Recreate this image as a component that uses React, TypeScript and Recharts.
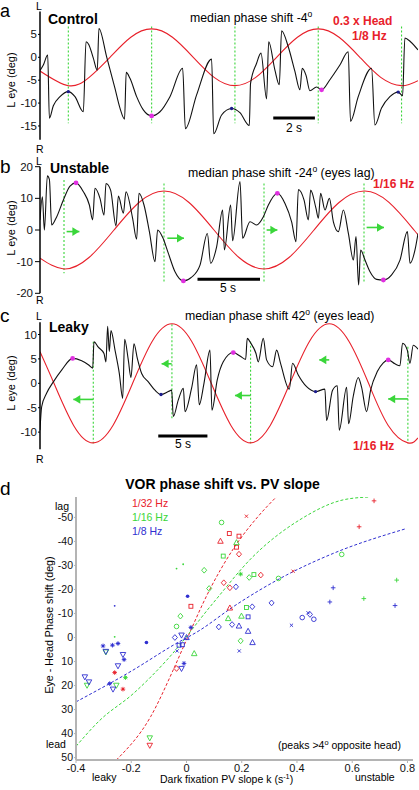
import React from 'react';
import { ComposedChart, Line, Scatter, XAxis, YAxis, ReferenceLine } from 'recharts';

const FONT = '"Liberation Sans", Arial, Helvetica, sans-serif';
const RED = '#e8212b';
const GREEN = '#3ad63a';
const BLUE = '#2f2fd0';
const MAGENTA = '#e030e0';
const NAVY = '#1c1c8c';
const AXIS_GRAY = '#b4b4b4';

type Pair = [number, number];
type Mark = [number, number, string];

// ---- panel a: control, 1/8 Hz (t in s, v in deg) ----
const headA: Pair[] = [
  [0, -3.0], [1.36, -6.2], [2.36, -4.38], [3.36, 0], [4.36, 4.38], [5.36, 6.2], [6.36, 4.38],
  [7.36, 0], [8.36, -4.38], [9.36, -6.2], [10.36, -4.38], [11.36, 0], [12.36, 4.38], [13.36, 6.2],
  [14.36, 4.38], [15.36, 0], [16.36, -4.38], [17.36, -6.2], [18.15, -5.1],
];
const eyeA: Pair[] = [
  [0, -2.9], [0.16, -1.7], [0.37, 0.5], [0.45, -13.3], [0.64, -10.6], [0.96, -8.6], [1.36, -7.5],
  [1.68, -8.6], [2.08, -11.9], [2.21, 3.4], [2.34, 2.8], [2.56, -0.2], [2.75, -2.8], [2.83, 6.3],
  [3.2, 0.1], [3.6, -6.8], [3.84, -11.1], [4.06, -13.5], [4.14, -3.3], [4.32, -4.6], [4.64, -8.6],
  [4.96, -11.5], [5.36, -12.8], [5.76, -11.9], [6.24, -8.6], [6.85, -2.4], [6.98, -15.6], [7.52, -8.2],
  [8.24, -0.4], [8.34, -16.7], [8.72, -12.6], [9.2, -11.2], [9.6, -12.1], [10.05, -14.9], [10.11, -5.7],
  [10.4, -1.3], [10.61, 0.9], [10.88, -9.1], [10.98, 3.4], [11.28, -2.8], [11.49, -6.0], [11.6, 5.8],
  [11.92, 2.3], [12.24, -3.1], [12.48, -7.1], [12.59, -2.4], [12.77, -3.9], [12.96, -7.3], [13.28, -6.5],
  [13.52, -7.1], [13.92, -4.9], [14.4, -1.7], [14.8, 1.2], [14.91, -14.0], [15.28, -8.6], [15.92, -2.4],
  [16.08, -14.8], [16.4, -11.1], [16.8, -8.6], [17.2, -7.6], [17.41, -8.4], [17.52, 4.2], [17.79, 3.4],
  [18.15, 1.6],
];
const peaksA: Pair[] = [[5.36, -12.8], [13.52, -7.1]];
const marksA: Pair[] = [[1.36, -7.5], [9.2, -11.2], [17.2, -7.6]];
const guidesA: number[][] = [[1.36, 6.7, -14.4], [5.36, 6.7, -14.4], [9.36, 6.7, -14.4], [13.36, 6.7, -14.4], [17.36, 6.7, -14.4]];
const barA = [11.2, 13.2, -13.25];
const ticksA = [5, 0, -5, -10, -15];

// ---- panel b: unstable, 1/16 Hz ----
const headB: Pair[] = [
  [0, -8.9], [1.92, -12.3], [3.92, -8.7], [5.92, 0], [7.92, 8.7], [9.92, 12.3], [11.92, 8.7],
  [13.92, 0], [15.92, -8.7], [17.92, -12.3], [19.92, -8.7], [21.92, 0], [23.92, 8.7], [25.92, 12.3],
  [27.92, 8.7], [29.92, 0], [30.24, -1.5],
];
const eyeB: Pair[] = [
  [0, 3.2], [0.19, 10.5], [0.35, 0], [0.59, 17.1], [0.75, 16], [0.93, 1.6], [1.28, 3.7], [1.87, 9.5],
  [2.4, 13.9], [2.88, 14.9], [3.47, 12.1], [3.95, 7.9], [4.21, 3.2], [4.4, 13.2], [4.8, 10], [5.12, 4.7],
  [5.28, 14.7], [5.65, 12.6], [6.08, 1.3], [6.27, 10.7], [6.67, 5.3], [6.88, 12.1], [7.41, 3.7],
  [7.73, -2.9], [7.92, 11.6], [8.32, 7.9], [8.75, -0.5], [9.2, -10], [9.41, 0], [9.81, -2.3],
  [10.27, -7.4], [10.8, -13.2], [11.47, -16.1], [12.13, -14.9], [12.8, -11.1], [13.39, -1.1],
  [13.65, -10.5], [14.13, -5.3], [14.61, 6.3], [14.75, -6.3], [15.25, 7.9], [15.41, -3.4], [16, 15.3],
  [16.21, -2.6], [16.8, 2.6], [17.33, 1.6], [17.87, 4.2], [18.27, 7.9], [18.99, 11.6], [19.6, 8.4],
  [20.13, 2.6], [20.48, -3.7], [20.67, 12.8], [21.12, 9.5], [21.47, 3.2], [21.65, 12.6], [22.08, 6.8],
  [22.27, 3.7], [22.45, 11.6], [22.8, 6.3], [23.15, 10], [23.47, 2.6], [23.87, -0.5], [24.27, 6.3],
  [24.67, -1.1], [25.07, -9.5], [25.28, -2.1], [25.49, -17.4], [25.65, -6.3], [26, -9.5], [26.4, -13.2],
  [26.93, -15.6], [27.47, -15.8], [28.13, -14.2], [28.8, -9.5], [29.39, -0.5], [29.6, -10.5], [30, -6.3],
  [30.24, -1.1],
];
const peaksB: Pair[] = [[2.88, 14.9], [11.47, -16.1], [18.99, 11.6], [27.47, -15.8]];
const guidesB: number[][] = [[1.92, 15.8, -13.7], [9.92, 14.7, -16.3], [17.92, 14.7, -16.3], [25.92, 14.7, -16.3]];
const arrowsB: number[][] = [[2.13, 3.15, -0.5], [10.19, 11.52, -2.6], [18.13, 18.99, 0], [26.13, 27.52, 0.8]];
const barB = [12.6, 17.6, -15.6];
const ticksB = [20, 10, 0, -10, -20];

// ---- panel c: leaky, 1/16 Hz ----
const headC: Pair[] = [
  [0, 6.47], [1.42, 0], [3.42, -8.63], [5.42, -12.2], [7.42, -8.63], [9.42, 0], [11.42, 8.63],
  [13.42, 12.2], [15.42, 8.63], [17.42, 0], [19.42, -8.63], [21.42, -12.2], [23.42, -8.63], [25.42, 0],
  [27.42, 8.63], [29.42, 12.2], [31.42, 8.63], [33.42, 0], [35.42, -8.63], [37.42, -12.2], [38.45, -11.2],
];
const eyeC: Pair[] = [
  [0, -9.6], [0.17, -4.8], [0.68, -2.0], [1.36, 0.3], [2.2, 2.7], [3.32, 5.1], [4.24, 4.6], [4.92, 3.8],
  [5.36, 3.1], [5.49, 8.5], [5.93, 7.4], [6.51, 6.1], [6.71, 4.4], [6.88, 11.7], [7.05, 6.5], [7.22, 10.8],
  [7.63, 6.8], [8.07, 2.0], [8.41, -3.1], [8.61, 9.0], [8.98, 4.8], [9.25, 1.2], [9.56, 8.1], [9.9, 5.1],
  [10.34, 2.0], [11.02, 0.3], [11.69, -1.4], [12.31, -2.3], [13.05, -1.7], [13.39, -1.4], [13.56, -6.8],
  [14.07, -3.4], [14.58, -1.0], [14.75, -5.8], [15.42, -1.0], [15.93, 3.8], [16.2, -4.4], [16.68, 0],
  [17.29, 6.8], [17.49, -5.5], [18.03, 0.7], [18.64, 4.4], [19.66, 6.3], [20.34, 5.6], [20.92, 4.9],
  [21.08, 9.2], [21.42, 8.3], [21.97, 6.1], [22.2, 4.4], [22.71, 9.2], [23.05, 4.8], [23.66, 3.4],
  [24.07, 6.8], [24.47, 4.1], [25.36, -1.2], [25.69, 4.1], [26.27, 1.7], [27.12, -0.7], [28.03, -1.7],
  [28.98, -1.2], [29.15, -7.6], [29.76, -1.4], [30.24, -0.5], [30.44, -9.6], [31.19, -0.8], [31.39, -8.3],
  [31.86, -2.7], [32.37, 1.2], [32.71, -0.8], [33.22, -5.8], [33.63, -1.4], [34.31, 2.4], [34.92, 4.2],
  [35.42, 4.8], [36.1, 4.0], [36.61, 3.6], [36.88, 8.2], [37.36, 6.8], [37.63, 4.1], [37.97, 7.8],
  [38.45, 7.0],
];
const peaksC: Pair[] = [[3.32, 5.1], [19.66, 6.3], [35.42, 4.8]];
const marksC: Pair[] = [[12.31, -2.3], [28.03, -1.7]];
const guidesC: number[][] = [[5.42, 8.5, -12.3], [13.42, 12.1, -7.2], [21.42, 8.5, -12.3], [29.42, 12.6, -7.2], [37.42, 7.5, -12.3]];
const arrowsC: number[][] = [[5.42, 3.39, -3.3], [13.39, 12.37, 4.0], [21.42, 19.83, -2.5], [29.42, 28.41, 4.8], [37.42, 35.42, -3.2]];
const barC = [12.03, 17.03, -10.8];
const ticksC = [10, 5, 0, -5, -10];

// ---- panel d: phase shift (deg) vs PV slope k (1/s) ----
const fit32: Pair[] = [[-0.254, 51], [-0.13, 33], [-0.05, 14], [0, 1], [0.08, -19], [0.17, -37], [0.26, -50.5], [0.325, -58.5]];
const fit16: Pair[] = [[-0.4, 45.3], [-0.314, 34.5], [-0.193, 23.4], [-0.072, 9.5], [0.096, -14.3], [0.24, -33.6], [0.41, -49], [0.567, -57.3], [0.66, -58.5]];
const fit8: Pair[] = [[-0.4, 26.8], [-0.194, 13.6], [-0.048, 3.2], [0.048, -3], [0.169, -12.8], [0.362, -26], [0.531, -35], [0.797, -45.4]];

const red32: Mark[] = [
  [0.217, -50.5, 'x'], [0.155, -43.3, 's'], [0.123, -40.1, '^'], [0.19, -42.2, 's'], [0.181, -37.6, 's'],
  [0.19, -34.7, 'd'], [0.269, -26, 'd'], [0.386, -27.6, 'x'], [0.679, -56.9, '+'], [0.625, -46.1, '+'],
  [0.135, -22.8, 'd'], [0.157, -20.7, 'd'], [0.016, -13, 's'], [0.157, -12.3, '^'], [-0.036, 12.9, 'd'],
  [-0.26, 14.6, '*'], [-0.23, 21.5, '*'], [-0.133, 44.9, 'v'],
];
const green16: Mark[] = [
  [0.127, -47.9, 'o'], [0.181, -39.5, '^'], [0.133, -33.9, 's'], [-0.036, -28.7, '.'], [-0.012, -30.5, '.'],
  [0.064, -28, 'd'], [0.196, -26.4, '*'], [0.227, -25, 'd'], [0.244, -26.2, 's'], [0.333, -24.6, 'o'],
  [0.562, -34.6, 'o'], [0.761, -23.9, '+'], [0.642, -16.2, '+'], [0.082, -20.4, 'd'], [0.217, -12.5, 's'],
  [-0.022, -8.9, 'd'], [0.151, -7.9, '^'], [0.199, -8.9, '^'], [-0.036, -4.6, 'o'], [0.196, 1.4, 'd'],
  [0.028, 6.7, '^'], [-0.26, -0.3, '.'], [-0.292, 6, 'v'], [-0.221, 16.7, '*'], [-0.36, 19.9, 'v'],
  [-0.254, 19.9, 'v'], [-0.133, 41.8, 'v'],
];
const blue8: Mark[] = [
  [-0.26, -13.2, '.'], [0.004, -17.2, '•'], [0.179, -21.1, 'd'], [0.531, -20.7, '+'], [0.519, -14.8, '+'],
  [0.755, -13.3, '+'], [0.238, -12.8, 'd'], [0.308, -14.4, 'd'], [0.223, -8.6, 's'], [0.419, -8.3, 'o'],
  [0.44, -10.3, 'x'], [0.447, -9.6, 'd'], [0.461, -7.6, 'o'], [0.016, -4.2, '*'], [0.117, -4.4, 'd'],
  [0.165, -5.4, 'd'], [0.19, -4.8, '^'], [0.38, -5.1, 'x'], [-0.042, 0, 'd'], [-0.018, -1, 'v'],
  [0, 0, '^'], [-0.027, 3.2, 's'], [-0.015, 3.0, 's'], [-0.034, 5.6, 'x'], [0.223, -2.6, '^'],
  [0.239, 2.1, '^'], [0.191, 5.6, 'x'], [-0.009, 10.8, '*'], [-0.018, 12.9, 'v'], [-0.302, 3.5, '*'],
  [-0.268, 3.2, '*'], [-0.248, 2.5, '*'], [-0.145, 2.1, '•'], [-0.292, 5.8, 'v'], [-0.23, 7.1, 'v'],
  [-0.226, 9.2, '*'], [-0.248, 11.8, 'v'], [-0.368, 16.4, 'v'], [-0.353, 18.5, 'v'], [-0.278, 19.2, '*'],
  [-0.266, 21.5, 'v'],
];
const kTicks = [-0.4, -0.2, 0, 0.2, 0.4, 0.6, 0.8];
const vTicks = [-50, -40, -30, -20, -10, 0, 10, 20, 30, 40, 50];

const toTV = (a: Pair[]) => a.map(([t, v]) => ({ t, v }));
const toKV = (a: Pair[]) => a.map(([k, v]) => ({ k, v }));
const toMarks = (a: Mark[]) => a.map(([k, v, m]) => ({ k, v, m }));

const dotShape = (color: string, r: number) => (p: any) => <circle cx={p.cx} cy={p.cy} r={r} fill={color} />;

const arrowHead = (right: boolean) => (p: any) => {
  const { cx, cy } = p;
  const b = right ? cx - 7 : cx + 7;
  return <polygon points={`${cx},${cy} ${b},${cy - 4.3} ${b},${cy + 4.3}`} fill={GREEN} />;
};

const markerShape = (color: string) => (p: any) => {
  const { cx, cy } = p;
  const s = 2.3;
  const o = { fill: 'none', stroke: color, strokeWidth: 0.9 };
  switch (p.payload.m) {
    case 'o':
      return <circle cx={cx} cy={cy} r={s} {...o} />;
    case 's':
      return <rect x={cx - s * 0.85} y={cy - s * 0.85} width={s * 1.7} height={s * 1.7} {...o} />;
    case 'd':
      return <polygon points={`${cx},${cy - s * 1.25} ${cx + s * 1.1},${cy} ${cx},${cy + s * 1.25} ${cx - s * 1.1},${cy}`} {...o} />;
    case '^':
      return <polygon points={`${cx},${cy - s * 1.3} ${cx + s * 1.2},${cy + s * 0.9} ${cx - s * 1.2},${cy + s * 0.9}`} {...o} />;
    case 'v':
      return <polygon points={`${cx},${cy + s * 1.3} ${cx + s * 1.2},${cy - s * 0.9} ${cx - s * 1.2},${cy - s * 0.9}`} {...o} />;
    case '+':
      return <path d={`M${cx - s},${cy}H${cx + s}M${cx},${cy - s}V${cy + s}`} {...o} />;
    case 'x':
      return <path d={`M${cx - 1.6},${cy - 1.6}L${cx + 1.6},${cy + 1.6}M${cx - 1.6},${cy + 1.6}L${cx + 1.6},${cy - 1.6}`} {...o} />;
    case '*':
      return (
        <g>
          <path d={`M${cx - s},${cy}H${cx + s}M${cx},${cy - s}V${cy + s}M${cx - 1.6},${cy - 1.6}L${cx + 1.6},${cy + 1.6}M${cx - 1.6},${cy + 1.6}L${cx + 1.6},${cy - 1.6}`} {...o} />
          <circle cx={cx} cy={cy} r={1} fill={color} />
        </g>
      );
    case '•':
      return <circle cx={cx} cy={cy} r={1.8} fill={color} />;
    default:
      return <circle cx={cx} cy={cy} r={0.9} fill={color} />;
  }
};

interface TraceProps {
  top: number;
  height: number;
  mTop: number;
  mBottom: number;
  tMax: number;
  domain: [number, number];
  ticks: number[];
  tickSize: number;
  tickMargin: number;
  head: Pair[];
  eye: Pair[];
  guides: number[][];
  peaks: Pair[];
  marks?: Pair[];
  arrows?: number[][];
  arrowRight?: boolean;
  bar: number[];
}

function TracePanel(p: TraceProps) {
  return (
    <div style={{ position: 'absolute', left: 0, top: p.top }}>
      <ComposedChart width={419} height={p.height} margin={{ top: p.mTop, right: 1, bottom: p.mBottom, left: 10 }}>
        <XAxis type="number" dataKey="t" domain={[0, p.tMax]} hide allowDataOverflow />
        <YAxis
          type="number"
          dataKey="v"
          domain={p.domain}
          ticks={p.ticks}
          allowDataOverflow
          width={30}
          axisLine={{ stroke: '#000', strokeWidth: 1.5 }}
          tickLine={{ stroke: '#000' }}
          tickSize={p.tickSize}
          tickMargin={p.tickMargin}
          tick={{ fontSize: 11.5, fill: '#111', fontFamily: FONT }}
        />
        {p.guides.map(([t, a, b], i) => (
          <ReferenceLine key={'g' + i} segment={[{ x: t, y: a }, { x: t, y: b }]} stroke={GREEN} strokeWidth={1.1} strokeDasharray="2 2" />
        ))}
        <Line data={toTV(p.head)} dataKey="v" type="natural" stroke={RED} strokeWidth={1.1} dot={false} isAnimationActive={false} />
        <Line data={toTV(p.eye)} dataKey="v" type="monotone" stroke="#111" strokeWidth={1.1} dot={false} isAnimationActive={false} />
        {(p.arrows || []).map(([a, b, v], i) => (
          <ReferenceLine key={'a' + i} segment={[{ x: a, y: v }, { x: b, y: v }]} stroke={GREEN} strokeWidth={1.6} />
        ))}
        {p.arrows && (
          <Scatter data={p.arrows.map(([, b, v]) => ({ t: b, v }))} shape={arrowHead(!!p.arrowRight)} isAnimationActive={false} />
        )}
        <Scatter data={toTV(p.peaks)} shape={dotShape(MAGENTA, 2.4)} isAnimationActive={false} />
        {p.marks && <Scatter data={toTV(p.marks)} shape={dotShape(NAVY, 1.7)} isAnimationActive={false} />}
        <ReferenceLine segment={[{ x: p.bar[0], y: p.bar[2] }, { x: p.bar[1], y: p.bar[2] }]} stroke="#000" strokeWidth={3} />
      </ComposedChart>
    </div>
  );
}

function Txt({ x, y, size = 11, bold = false, fill = '#000', anchor = 'start', rotate = 0, children }: any) {
  return (
    <text
      x={x}
      y={y}
      fontSize={size}
      fontWeight={bold ? 'bold' : 'normal'}
      fill={fill}
      textAnchor={anchor}
      fontFamily={FONT}
      transform={rotate ? `rotate(${rotate} ${x} ${y})` : undefined}
    >
      {children}
    </text>
  );
}

const Sup = ({ size, children }: any) => (
  <tspan fontSize={size * 0.7} dy={-size * 0.4}>{children}</tspan>
);

export default function App() {
  return (
    <div style={{ position: 'absolute', left: 0, top: 0, width: 419, height: 790, background: '#fff', overflow: 'hidden' }}>
      <TracePanel top={0} height={150} mTop={11.5} mBottom={10.3} tMax={18.15} domain={[-18, 10]} ticks={ticksA}
        tickSize={2} tickMargin={1} head={headA} eye={eyeA} guides={guidesA} peaks={peaksA} marks={marksA} bar={barA} />
      <TracePanel top={150} height={150} mTop={16.7} mBottom={6.7} tMax={30.24} domain={[-20, 20]} ticks={ticksB}
        tickSize={5} tickMargin={2} head={headB} eye={eyeB} guides={guidesB} peaks={peaksB} arrows={arrowsB} arrowRight bar={barB} />
      <TracePanel top={300} height={160} mTop={22.3} mBottom={10.8} tMax={38.45} domain={[-13.5, 12.5]} ticks={ticksC}
        tickSize={2} tickMargin={1} head={headC} eye={eyeC} guides={guidesC} peaks={peaksC} marks={marksC} arrows={arrowsC} bar={barC} />

      <div style={{ position: 'absolute', left: 0, top: 460 }}>
        <ComposedChart width={419} height={330} margin={{ top: 37, right: 6, bottom: 0, left: 40 }}>
          <XAxis
            type="number"
            dataKey="k"
            domain={[-0.4, 0.82]}
            ticks={kTicks}
            allowDataOverflow
            height={30}
            axisLine={{ stroke: AXIS_GRAY, strokeWidth: 2 }}
            tickLine={{ stroke: AXIS_GRAY }}
            tickSize={3}
            tickMargin={1}
            tick={{ fontSize: 11, fill: '#111', fontFamily: FONT }}
            tickFormatter={(k: number) => (k === 0 ? '0' : k.toFixed(1))}
          />
          <YAxis
            type="number"
            dataKey="v"
            reversed
            domain={[-58.5, 51]}
            ticks={vTicks}
            allowDataOverflow
            width={36}
            axisLine={{ stroke: AXIS_GRAY, strokeWidth: 2 }}
            tickLine={{ stroke: AXIS_GRAY }}
            tickSize={2}
            tickMargin={1}
            tick={{ fontSize: 10.5, fill: '#111', fontFamily: FONT }}
          />
          <Line data={toKV(fit32)} dataKey="v" type="monotone" stroke={RED} strokeWidth={1} strokeDasharray="3 2" dot={false} isAnimationActive={false} />
          <Line data={toKV(fit16)} dataKey="v" type="monotone" stroke={GREEN} strokeWidth={1} strokeDasharray="3 2" dot={false} isAnimationActive={false} />
          <Line data={toKV(fit8)} dataKey="v" type="monotone" stroke={BLUE} strokeWidth={1} strokeDasharray="3 2" dot={false} isAnimationActive={false} />
          <Scatter data={toMarks(red32)} shape={markerShape(RED)} isAnimationActive={false} />
          <Scatter data={toMarks(green16)} shape={markerShape(GREEN)} isAnimationActive={false} />
          <Scatter data={toMarks(blue8)} shape={markerShape(BLUE)} isAnimationActive={false} />
        </ComposedChart>
      </div>

      <svg width={419} height={790} style={{ position: 'absolute', left: 0, top: 0, pointerEvents: 'none' }}>
        {/* panel a */}
        <Txt x={0} y={16.5} size={18}>a</Txt>
        <Txt x={36} y={9.8} size={10.5}>L</Txt>
        <Txt x={36} y={152.7} size={10.5}>R</Txt>
        <Txt x={48} y={24} size={14} bold>Control</Txt>
        <Txt x={190} y={22} size={12.3}>median phase shift -4<Sup size={12.3}>o</Sup></Txt>
        <Txt x={333} y={25} size={12} bold fill={RED}>0.3 x Head</Txt>
        <Txt x={352} y={40} size={12} bold fill={RED}>1/8 Hz</Txt>
        <Txt x={294} y={131.5} size={12} anchor="middle">2 s</Txt>
        <Txt x={15} y={80} size={11} anchor="middle" rotate={-90}>L eye (deg)</Txt>

        {/* panel b */}
        <Txt x={0} y={173} size={19}>b</Txt>
        <Txt x={36} y={165} size={10.5}>L</Txt>
        <Txt x={36} y={304} size={10.5}>R</Txt>
        <Txt x={50} y={172.5} size={14} bold>Unstable</Txt>
        <Txt x={188} y={176.5} size={12.3}>median phase shift -24<Sup size={12.3}>o</Sup><tspan dy={12.3 * 0.4}> (eyes lag)</tspan></Txt>
        <Txt x={373} y={188} size={12} bold fill={RED}>1/16 Hz</Txt>
        <Txt x={228} y={291.7} size={12} anchor="middle">5 s</Txt>
        <Txt x={15} y={228} size={11} anchor="middle" rotate={-90}>L eye (deg)</Txt>

        {/* panel c */}
        <Txt x={0} y={322} size={19}>c</Txt>
        <Txt x={36} y={320} size={10.5}>L</Txt>
        <Txt x={36} y={462.7} size={10.5}>R</Txt>
        <Txt x={49} y={332} size={14} bold>Leaky</Txt>
        <Txt x={185} y={320} size={12.3}>median phase shift 42<Sup size={12.3}>o</Sup><tspan dy={12.3 * 0.4}> (eyes lead)</tspan></Txt>
        <Txt x={353} y={450} size={12} bold fill={RED}>1/16 Hz</Txt>
        <Txt x={183} y={448.3} size={12} anchor="middle">5 s</Txt>
        <Txt x={15} y={383} size={11} anchor="middle" rotate={-90}>L eye (deg)</Txt>

        {/* panel d */}
        <Txt x={0} y={495} size={19}>d</Txt>
        <Txt x={222.5} y={489} size={14} bold anchor="middle">VOR phase shift vs. PV slope</Txt>
        <Txt x={132} y={506.5} size={10.5} fill={RED}>1/32 Hz</Txt>
        <Txt x={132} y={520.7} size={10.5} fill={GREEN}>1/16 Hz</Txt>
        <Txt x={132} y={535} size={10.5} fill={BLUE}>1/8 Hz</Txt>
        <Txt x={55} y={510} size={10.5}>lag</Txt>
        <Txt x={46} y={748} size={10.5}>lead</Txt>
        <Txt x={92} y={781} size={10.5}>leaky</Txt>
        <Txt x={355} y={781} size={10.5}>unstable</Txt>
        <Txt x={160} y={783} size={10.5}>Dark fixation PV slope k  (s<Sup size={10.5}>-1</Sup><tspan dy={10.5 * 0.4}>)</tspan></Txt>
        <Txt x={278} y={749} size={10.5}>(peaks &gt;4<Sup size={10.5}>o</Sup><tspan dy={10.5 * 0.4}> opposite head)</tspan></Txt>
        <Txt x={53} y={625} size={10.7} anchor="middle" rotate={-90}>Eye - Head Phase shift  (deg)</Txt>
      </svg>
    </div>
  );
}
